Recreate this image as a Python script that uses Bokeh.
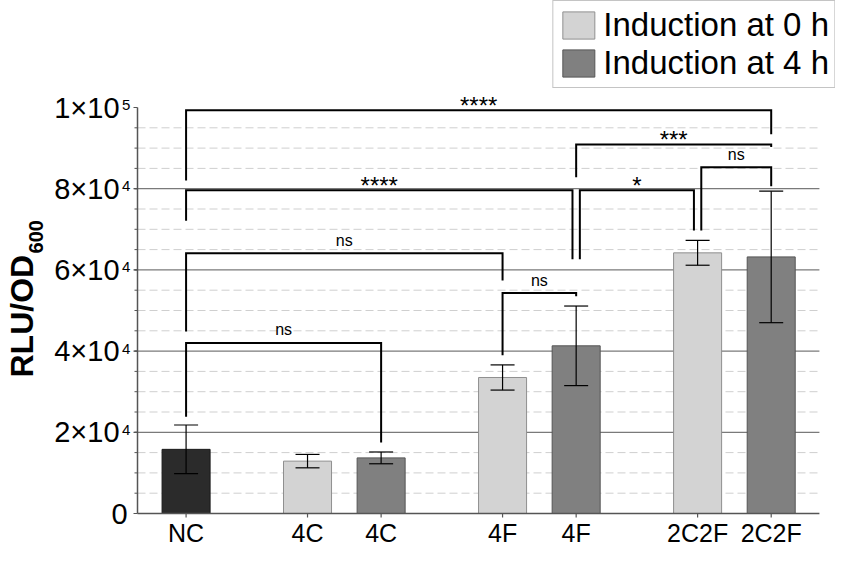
import math
from bokeh.plotting import figure
from bokeh.models import ColumnDataSource, Range1d, Whisker, TeeHead, Legend, LegendItem
from bokeh.embed import file_html
from bokeh.resources import INLINE
from bokeh.core.properties import value

# ---------------- data ----------------
categories = ["NC", "4C", "4C", "4F", "4F", "2C2F", "2C2F"]
positions = [0, 33, 53, 86, 106, 139, 159]
groups = ["control", "0h", "4h", "0h", "4h", "0h", "4h"]
means = [15800, 12900, 13700, 33500, 41300, 64200, 63200]
errors = [6000, 1650, 1450, 3100, 9800, 3050, 16200]

y_ticks = [0, 20000, 40000, 60000, 80000, 100000]
y_tick_mantissa = ["0", "2×10", "4×10", "6×10", "8×10", "1×10"]
y_tick_exponent = ["", "4", "4", "4", "4", "5"]
y_minor_ticks = [5000 * k for k in range(1, 20)]
major_grid = [20000, 40000, 60000, 80000]

legend_labels = ["Induction at 0 h", "Induction at 4 h"]

# significance brackets (bar indices, bracket height, leg ends, label)
bracket_left = [0, 0, 3, 0, 4, 5, 4, 0]
bracket_right = [2, 3, 4, 4, 5, 6, 6, 6]
bracket_height = [42000, 64100, 54300, 79600, 79600, 85300, 90900, 99300]
bracket_left_end = [23800, 44800, 39000, 72100, 62600, 69700, 82800, 82000]
bracket_right_end = [17500, 57400, 53500, 62600, 69700, 80600, 90300, 93400]
bracket_labels = ["ns", "ns", "ns", "****", "*", "ns", "***", "****"]
# small leg shifts so neighbouring legs don't overlap (style)
leg_shift_left = [0, 0, 0, 0, 1, 1, 0, 0]
leg_shift_right = [0, 0, 0, -1, -1, 0, 0, 0]

# ---------------- layout constants (pixels -> data) ----------------
W, H = 835, 547
KX = 3.68            # px per x unit
KY = 0.00406         # px per y unit
X0 = -50.43
X1 = X0 + W / KX
Y_ZERO_PX = 513      # screen row of y = 0
Y0 = -(H - Y_ZERO_PX) / KY
Y1 = Y_ZERO_PX / KY
AXIS_X = -13.2
AXIS_END = 172.1
FONT = "Liberation Sans"

def px_x(n):
    return n / KX

def px_y(n):
    return n / KY

p = figure(width=W, height=H, output_backend="svg", toolbar_location=None,
           x_range=Range1d(X0, X1), y_range=Range1d(Y0, Y1),
           min_border=0)
p.outline_line_color = None
p.grid.visible = False
p.xaxis.visible = False
p.yaxis.visible = False
p.background_fill_color = "white"
p.border_fill_color = "white"

# grid lines
minor_grid = [v for v in y_minor_ticks if v not in major_grid]
p.segment(x0=[AXIS_X] * len(minor_grid), x1=[AXIS_END] * len(minor_grid),
          y0=minor_grid, y1=minor_grid, line_color="#cfcfcf", line_width=1,
          line_dash="8 4")
p.segment(x0=[AXIS_X - px_x(3)] * len(major_grid), x1=[AXIS_END] * len(major_grid),
          y0=major_grid, y1=major_grid, line_color="#7a7a7a", line_width=1.2)

# bars
fills = {"control": "#2b2b2b", "0h": "#d3d3d3", "4h": "#808080"}
lines = {"control": "#1a1a1a", "0h": "#8f8f8f", "4h": "#555555"}
renderers = {}
for g in ["control", "0h", "4h"]:
    idx = [i for i, gg in enumerate(groups) if gg == g]
    src = ColumnDataSource(dict(x=[positions[i] for i in idx], top=[means[i] for i in idx]))
    renderers[g] = p.vbar(x="x", top="top", bottom=0, width=13.05, source=src,
                          fill_color=fills[g], line_color=lines[g], line_width=1)

# axis lines and ticks
p.segment(x0=[AXIS_X], x1=[AXIS_X], y0=[0], y1=[y_ticks[-1]], line_color="#555555", line_width=1.5)
p.segment(x0=[AXIS_X], x1=[AXIS_END], y0=[0], y1=[0], line_color="#555555", line_width=1.5)
p.segment(x0=[AXIS_X - px_x(4)] * len(y_ticks), x1=[AXIS_X] * len(y_ticks),
          y0=y_ticks, y1=y_ticks, line_color="#555555", line_width=1.2)
p.segment(x0=[AXIS_X - px_x(3)] * len(y_minor_ticks), x1=[AXIS_X] * len(y_minor_ticks),
          y0=y_minor_ticks, y1=y_minor_ticks, line_color="#555555", line_width=1)
p.segment(x0=positions, x1=positions, y0=[0] * len(positions),
          y1=[-px_y(4)] * len(positions), line_color="#555555", line_width=1.2)

# error bars
err_src = ColumnDataSource(dict(x=positions,
                                upper=[m + e for m, e in zip(means, errors)],
                                lower=[m - e for m, e in zip(means, errors)]))
p.add_layout(Whisker(source=err_src, base="x", upper="upper", lower="lower",
                     dimension="height", line_color="black", line_width=1.2,
                     level="overlay",
                     upper_head=TeeHead(size=24, line_color="black", line_width=1.2),
                     lower_head=TeeHead(size=24, line_color="black", line_width=1.2)))

# brackets
bxs, bys, lx, ly, lt, ls = [], [], [], [], [], []
for i in range(len(bracket_labels)):
    xa = positions[bracket_left[i]] + leg_shift_left[i]
    xb = positions[bracket_right[i]] + leg_shift_right[i]
    h = bracket_height[i]
    bxs.append([xa, xa, xb, xb])
    bys.append([bracket_left_end[i], h, h, bracket_right_end[i]])
    lx.append((xa + xb) / 2)
    if bracket_labels[i] == "ns":
        ly.append(h + px_y(13))
        ls.append("16px")
    else:
        ly.append(h + px_y(5.2))
        ls.append("24px")
    lt.append(bracket_labels[i])
p.multi_line(xs=bxs, ys=bys, line_color="black", line_width=2, line_join="miter")
p.text(x=lx, y=ly, text=lt, text_font_size=ls, text_align="center",
       text_baseline="middle", text_font=value(FONT), text_color="black")

# x tick labels
p.text(x=positions, y=[-px_y(19.5)] * len(positions), text=categories,
       text_align="center", text_baseline="middle", text_font=value(FONT),
       text_font_size="25px", text_color="black")

# y tick labels (mantissa + superscript exponent)
mx = [AXIS_X - px_x(18) if e else AXIS_X - px_x(10) for e in y_tick_exponent]
p.text(x=mx, y=y_ticks, text=y_tick_mantissa,
       text_align="right", text_baseline="middle", text_font=value(FONT),
       text_font_size="29px", text_color="black")
ex = [t for t, e in zip(y_ticks, y_tick_exponent) if e]
et = [e for e in y_tick_exponent if e]
p.text(x=[AXIS_X - px_x(15.5)] * len(ex), y=[t + px_y(2.5) for t in ex], text=et,
       text_align="left", text_baseline="middle", text_font=value(FONT),
       text_font_size="15px", text_color="black")

# y axis title with subscript
p.text(x=[AXIS_X - px_x(115.5)], y=[33500], text=["RLU/OD"], angle=math.pi / 2,
       text_align="left", text_baseline="middle", text_font=value(FONT),
       text_font_size="32px", text_font_style="bold", text_color="black")
p.text(x=[AXIS_X - px_x(102)], y=[33500 + px_y(124)], text=["600"], angle=math.pi / 2,
       text_align="left", text_baseline="middle", text_font=value(FONT),
       text_font_size="20px", text_font_style="bold", text_color="black")

# legend
legend = Legend(items=[LegendItem(label=legend_labels[0], renderers=[renderers["0h"]]),
                       LegendItem(label=legend_labels[1], renderers=[renderers["4h"]])],
                location="top_right", orientation="vertical", margin=0, padding=5,
                spacing=0, glyph_width=40, glyph_height=34, label_standoff=5,
                label_text_font=FONT, label_text_font_size="33px",
                label_text_color="black",
                border_line_color="#8a8a8a", border_line_width=1.3,
                background_fill_color="white", background_fill_alpha=1)
p.add_layout(legend)

open("out.html", "w").write(file_html(p, INLINE))
